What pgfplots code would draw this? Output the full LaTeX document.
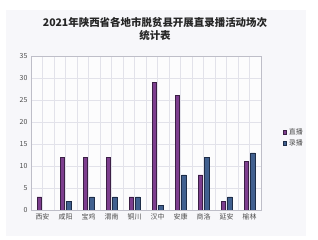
\documentclass[border=0pt]{standalone}
\usepackage{fontspec}
\setmainfont{Noto Sans CJK SC}
\usepackage{pgfplots}
\pgfplotsset{compat=1.18}
\definecolor{panel}{HTML}{F7F7FA}
\definecolor{gridc}{HTML}{E2E2EA}
\definecolor{framec}{HTML}{BEBEC8}
\definecolor{liveC}{HTML}{7D3E8E}
\definecolor{liveE}{HTML}{3B1F45}
\definecolor{recC}{HTML}{41608F}
\definecolor{recE}{HTML}{1E2D48}
\begin{document}
\begin{tikzpicture}[x=1bp,y=1bp]
\path[fill=white] (0,0) rectangle (318,240);
\path[fill=panel] (6,4) rectangle (306,230);
\node[font=\bfseries\fontsize{10.5}{12.5}\selectfont, align=center, text=black!85] at (155,211) {2021年陕西省各地市脱贫县开展直录播活动场次\\统计表};
\begin{axis}[
  at={(31bp,30bp)}, anchor=south west,
  scale only axis, width=230bp, height=154bp,
  xmin=-0.5, xmax=9.5, ymin=0, ymax=35,
  ytick={0,5,...,35},
  xtick={0,...,9},
  xticklabels={西安,咸阳,宝鸡,渭南,铜川,汉中,安康,商洛,延安,榆林},
  minor xtick={-0.5,0.5,...,9.5},
  xmajorgrids, ymajorgrids, xminorgrids,
  grid style={gridc, line width=0.5bp},
  minor grid style={gridc, line width=0.5bp},
  major tick length=0pt, minor tick length=0pt,
  axis line style={framec, line width=0.6bp},
  axis background/.style={fill=white!60!panel},
  tick label style={font=\fontsize{7}{8}\selectfont, text=black!70},
  /pgf/number format/assume math mode=true,
  ybar=2bp, bar width=4.5bp,
  legend style={at={(1.09,0.55)}, anchor=north west, draw=none, fill=none,
    font=\fontsize{7}{8}\selectfont, text=black!70, row sep=0pt,
    inner sep=1pt},
  legend cell align=left,
  legend image code/.code={\draw[#1] (0bp,-1.6bp) rectangle (3.4bp,1.8bp);},
]
\addplot[fill=liveC, draw=liveE, line width=0.5bp] coordinates {
(0,3) (1,12) (2,12) (3,12) (4,3) (5,29) (6,26) (7,8) (8,2) (9,11)};
\addplot[fill=recC, draw=recE, line width=0.5bp] coordinates {
(1,2) (2,3) (3,3) (4,3) (5,1) (6,8) (7,12) (8,3) (9,13)};
\legend{直播,录播}
\end{axis}
\end{tikzpicture}
\end{document}
